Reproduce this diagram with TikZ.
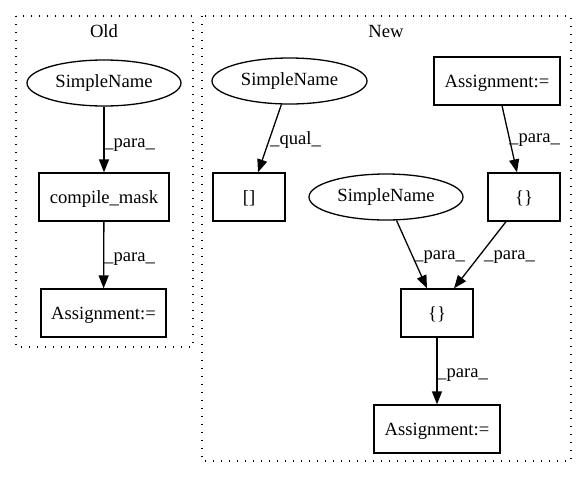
\documentclass[tikz,border=0pt]{standalone}
\usepackage{fontspec}
\setmainfont{Liberation Serif}
\usetikzlibrary{arrows.meta,shapes.geometric}
\begin{document}
\begin{tikzpicture}[x=1pt,y=-1pt,
  every node/.style={font=\fontsize{18.6}{22}\selectfont, inner sep=0pt},
  box/.style={draw, line width=1.3pt, minimum height=48pt, text depth=0pt},
  ell/.style={draw, line width=1.3pt, shape=ellipse, minimum height=46pt},
  cluster/.style={draw, line width=1.3pt, dash pattern=on 1.4pt off 6.6pt},
  edge/.style={line width=1.3pt, -{Triangle[length=13pt,width=10pt]}},
  lbl/.style={anchor=west}]
\useasboundingbox (0,0) rectangle (587,480);
% clusters
\draw[cluster] (16,16) rectangle (193,347);
\node (oldt) at (104,31) {Old};
\draw[cluster] (202,16) rectangle (571,461);
\node (newt) at (386,31) {New};
% Old nodes
\node[ell, minimum width=154pt] (osn) at (104,83) {SimpleName};
\node[box, minimum width=130pt] (ocm) at (104,197) {compile\_mask};
\node[box, minimum width=125pt] (oas) at (103.5,313) {Assignment:=};
\draw[edge] (osn) -- (ocm);
\draw[edge] (ocm) -- (oas);
\node[lbl] (l1) at (104,145) {\_para\_};
\node[lbl] (l2) at (104,259) {\_para\_};
% New nodes
\node[ell, minimum width=155pt] (nsn1) at (289.5,81) {SimpleName};
\node[box, minimum width=126pt] (nas1) at (497,81) {Assignment:=};
\node[box, minimum width=72pt] (nbr) at (249,197) {[]};
\node[ell, minimum width=154pt] (nsn2) at (386,197) {SimpleName};
\node[box, minimum width=72pt] (ncb1) at (524,197) {\{\}};
\node[box, minimum width=72pt] (ncb2) at (437,313) {\{\}};
\node[box, minimum width=126pt] (nas2) at (437,429) {Assignment:=};
\draw[edge] (nsn1) -- (nbr.north -| 258,0);
\draw[edge] (nas1.south -| 502,0) -- (ncb1.north -| 517,0);
\draw[edge] (nsn2) -- (ncb2.north -| 427,0);
\draw[edge] (ncb1.south -| 506,0) -- (ncb2.north -| 454,0);
\draw[edge] (ncb2) -- (nas2);
\node[lbl] (l3) at (270,140) {\_qual\_};
\node[lbl] (l4) at (509,140) {\_para\_};
\node[lbl] (l5) at (414,257) {\_para\_};
\node[lbl] (l6) at (484,257) {\_para\_};
\node[lbl] (l7) at (437,375) {\_para\_};
\end{tikzpicture}
\end{document}
